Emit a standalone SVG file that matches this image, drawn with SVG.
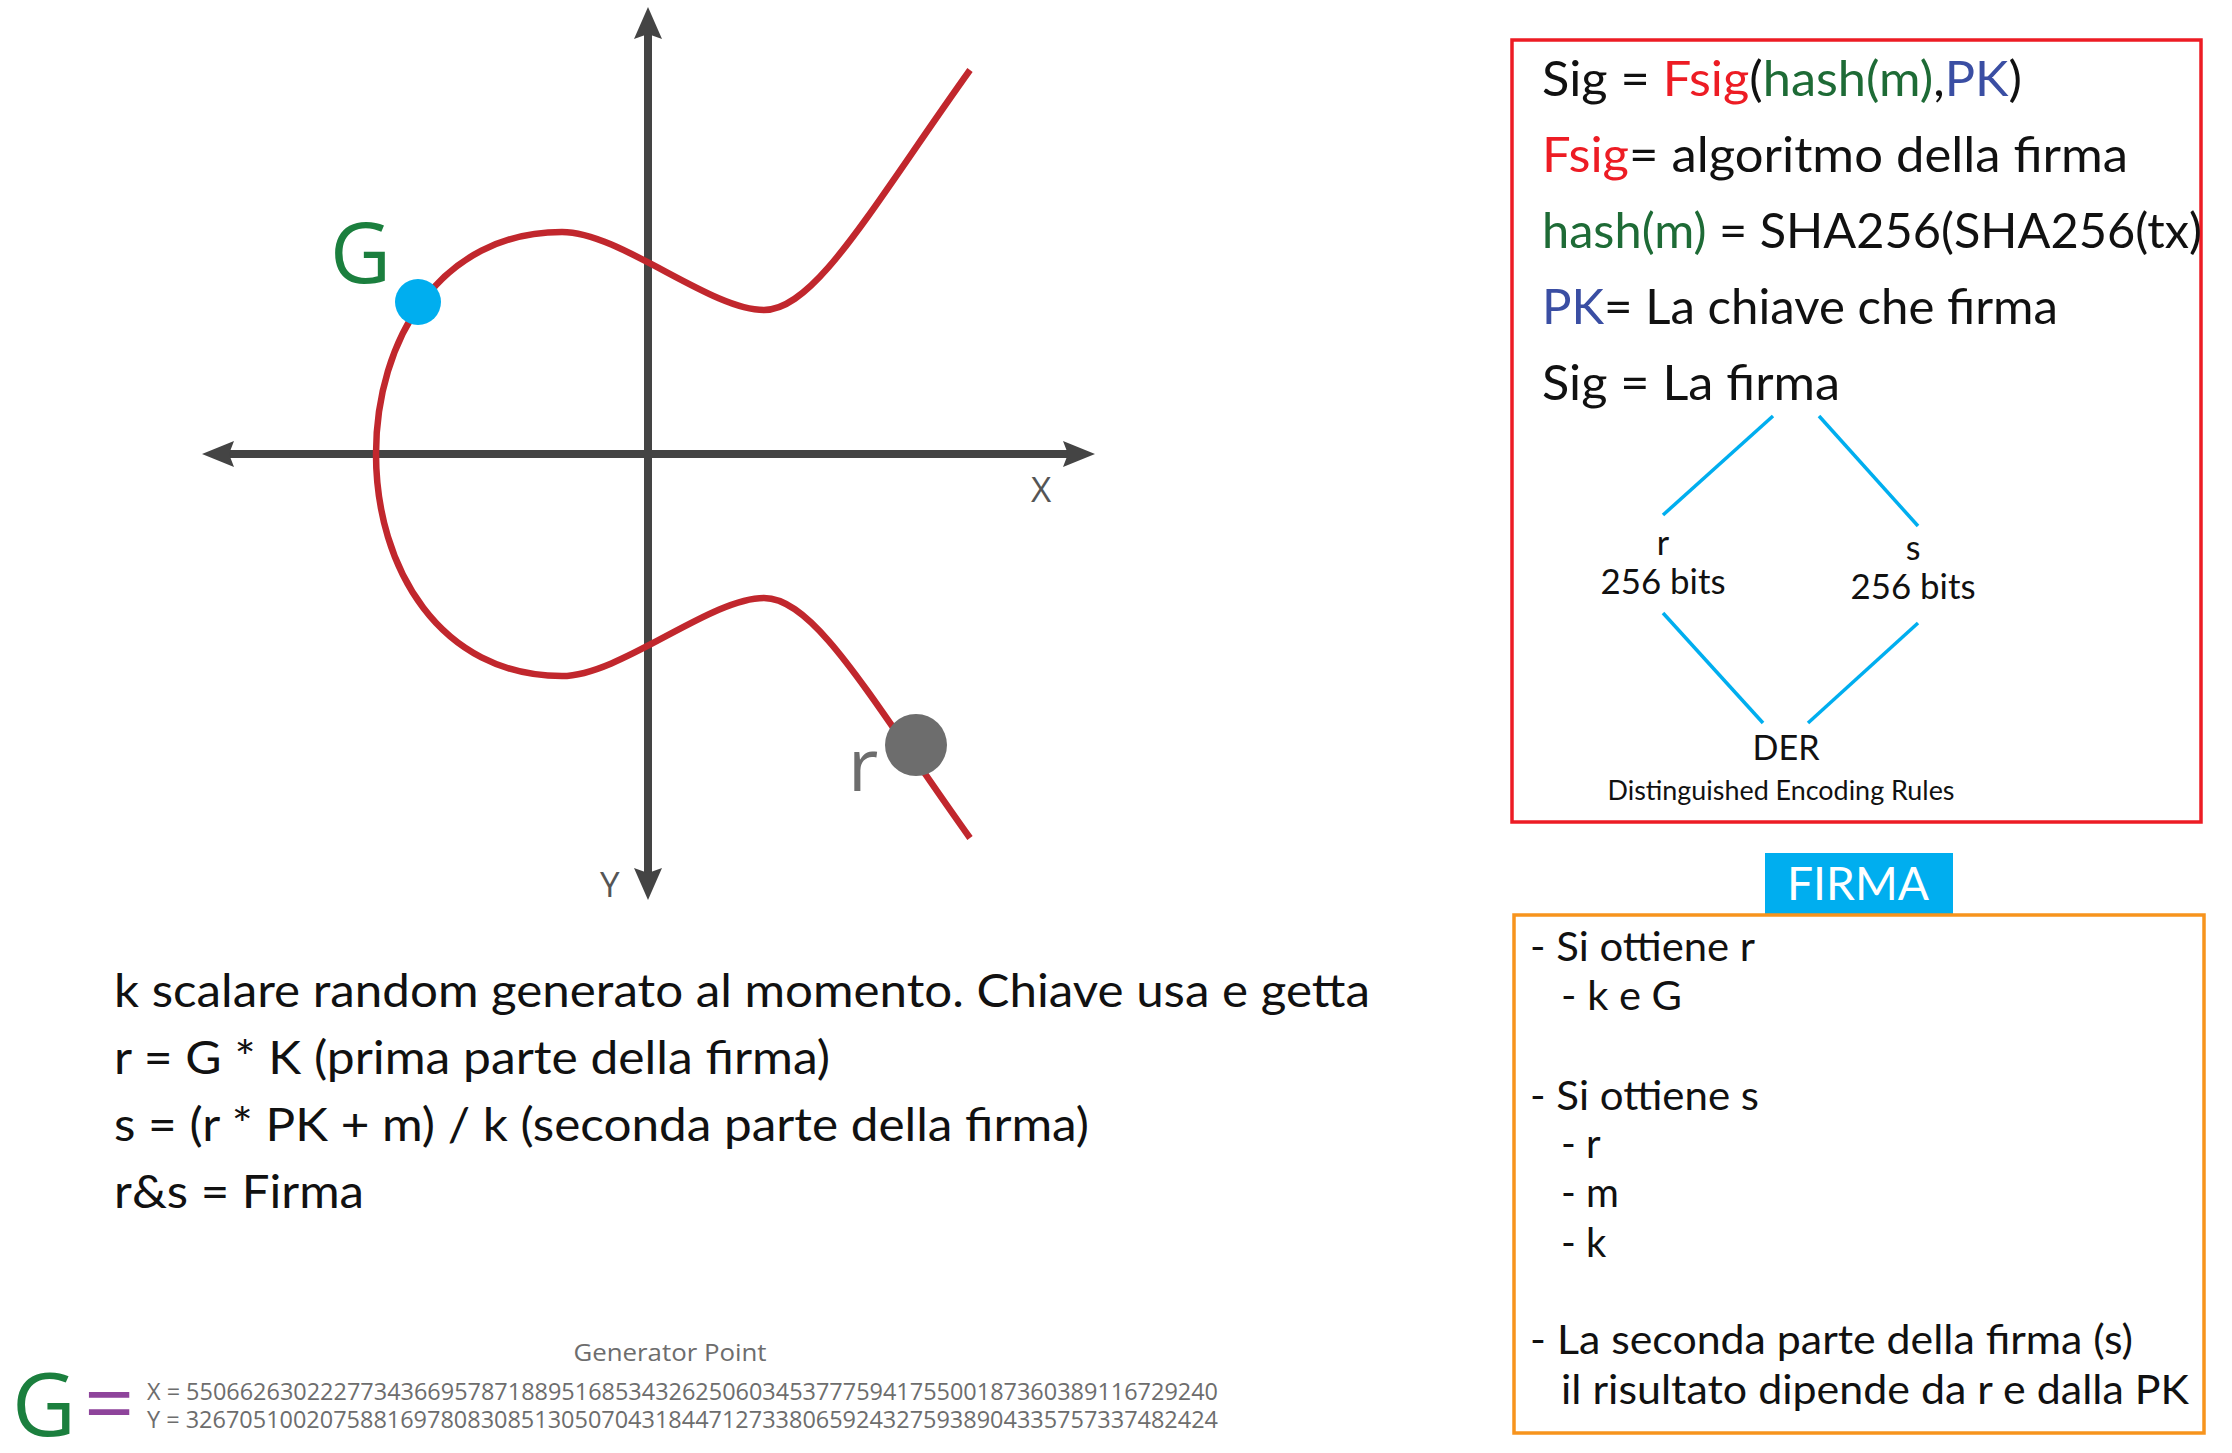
<svg xmlns="http://www.w3.org/2000/svg" width="2232" height="1453" viewBox="0 0 2232 1453">
<style>
.main{font-family:Lato,"Open Sans","Liberation Sans",sans-serif;fill:#111}
.lab{font-family:"Open Sans","Liberation Sans",sans-serif}
.gray{fill:#6d6d6d}
.red{fill:#ed1c24}
.grn{fill:#1e6b36}
.blu{fill:#3a4ea3}
.axis{stroke:#444;stroke-width:8;fill:none}
.ah{fill:#444}
.conn{stroke:#00aeef;stroke-width:3.5;fill:none}
</style>
<rect width="2232" height="1453" fill="#fff"/>

<g id="chart">
  <line class="axis" x1="648" y1="30" x2="648" y2="880"/>
  <line class="axis" x1="222" y1="454" x2="1076" y2="454"/>
  <path class="ah" d="M648 7 L662 39 L648 34 L634 39 Z"/>
  <path class="ah" d="M648 900 L662 868 L648 873 L634 868 Z"/>
  <path class="ah" d="M202 454 L234 441 L229 454 L234 467 Z"/>
  <path class="ah" d="M1095 454 L1063 441 L1068 454 L1063 467 Z"/>
  <text class="lab" x="1031" y="502" font-size="35" fill="#555">X</text>
  <text class="lab" x="600" y="897" font-size="35" fill="#555">Y</text>
  <path d="M970 70 C870 210 815 310 764 310 C710 310 620 232 562 232 C440 232 376 340 376 454 C376 568 440 676 562 676 C620 676 710 598 764 598 C815 598 870 698 970 838" fill="none" stroke="#c1272d" stroke-width="6.5"/>
  <g id="point-G">
    <circle cx="418" cy="302" r="23" fill="#00aeef"/>
    <text class="lab" x="330" y="283" font-size="84" fill="#1b7f3e">G</text>
  </g>
  <g id="point-r">
    <circle cx="916" cy="745" r="31" fill="#6d6d6d"/>
    <text class="lab gray" x="848" y="791" font-size="74">r</text>
  </g>
</g>

<g id="left-text" class="main" font-size="46">
  <text x="114" y="1007" textLength="1256" lengthAdjust="spacingAndGlyphs">k scalare random generato al momento. Chiave usa e getta</text>
  <text x="114" y="1074" textLength="716" lengthAdjust="spacingAndGlyphs">r = G * K (prima parte della firma)</text>
  <text x="114" y="1141" textLength="975" lengthAdjust="spacingAndGlyphs">s = (r * PK + m) / k (seconda parte della firma)</text>
  <text x="114" y="1208" textLength="250" lengthAdjust="spacingAndGlyphs">r&amp;s = Firma</text>
</g>

<g id="generator">
  <text class="lab gray" x="670" y="1361" font-size="23" text-anchor="middle" textLength="193" lengthAdjust="spacingAndGlyphs">Generator Point</text>
  <text class="lab" x="12" y="1436" font-size="88" fill="#1b7f3e">G</text>
  <text class="lab" x="84" y="1434" font-size="88" fill="#8e449b">=</text>
  <text class="lab gray" x="147" y="1400" font-size="23" textLength="1071" lengthAdjust="spacingAndGlyphs">X = 55066263022277343669578718895168534326250603453777594175500187360389116729240</text>
  <text class="lab gray" x="147" y="1428" font-size="23" textLength="1071" lengthAdjust="spacingAndGlyphs">Y = 32670510020758816978083085130507043184471273380659243275938904335757337482424</text>
</g>

<g id="formula-box">
  <rect x="1512" y="40" width="689" height="782" fill="none" stroke="#ed1c24" stroke-width="3.5"/>
  <g class="main" font-size="48">
    <text x="1542" y="96" textLength="480" lengthAdjust="spacingAndGlyphs">Sig = <tspan class="red">Fsig</tspan>(<tspan class="grn">hash(m)</tspan>,<tspan class="blu">PK</tspan>)</text>
    <text x="1542" y="172" textLength="586" lengthAdjust="spacingAndGlyphs"><tspan class="red">Fsig</tspan>= algoritmo della firma</text>
    <text x="1542" y="248" textLength="660" lengthAdjust="spacingAndGlyphs"><tspan class="grn">hash(m)</tspan> = SHA256(SHA256(tx)</text>
    <text x="1542" y="324" textLength="516" lengthAdjust="spacingAndGlyphs"><tspan class="blu">PK</tspan>= La chiave che firma</text>
    <text x="1542" y="400" textLength="298" lengthAdjust="spacingAndGlyphs">Sig = La firma</text>
  </g>
  <g id="connectors">
    <line class="conn" x1="1773" y1="416" x2="1663" y2="515"/>
    <line class="conn" x1="1819" y1="416" x2="1918" y2="526"/>
    <line class="conn" x1="1663" y1="613" x2="1763" y2="723"/>
    <line class="conn" x1="1918" y1="623" x2="1808" y2="723"/>
  </g>
  <g id="node-r" class="main" font-size="34" text-anchor="middle">
    <text x="1663" y="555">r</text>
    <text x="1663" y="594" textLength="125" lengthAdjust="spacingAndGlyphs">256 bits</text>
  </g>
  <g id="node-s" class="main" font-size="34" text-anchor="middle">
    <text x="1913" y="560">s</text>
    <text x="1913" y="599" textLength="125" lengthAdjust="spacingAndGlyphs">256 bits</text>
  </g>
  <g id="node-der" class="main" text-anchor="middle">
    <text x="1786" y="760" font-size="34" textLength="67" lengthAdjust="spacingAndGlyphs">DER</text>
    <text x="1781" y="800" font-size="26" textLength="347" lengthAdjust="spacingAndGlyphs">Distinguished Encoding Rules</text>
  </g>
</g>

<g id="firma-box">
  <rect x="1765" y="853" width="188" height="61" fill="#00aeef"/>
  <text class="main" x="1858" y="900" font-size="46" text-anchor="middle" style="fill:#fff" textLength="142" lengthAdjust="spacingAndGlyphs">FIRMA</text>
  <rect x="1514" y="915" width="690" height="518" fill="none" stroke="#f7941d" stroke-width="3.5"/>
  <g class="main" font-size="40">
    <text x="1530" y="961" textLength="225" lengthAdjust="spacingAndGlyphs">- Si ottiene r</text>
    <text x="1561" y="1010" textLength="121" lengthAdjust="spacingAndGlyphs">- k e G</text>
    <text x="1530" y="1110" textLength="229" lengthAdjust="spacingAndGlyphs">- Si ottiene s</text>
    <text x="1561" y="1158">- r</text>
    <text x="1561" y="1207">- m</text>
    <text x="1561" y="1257">- k</text>
    <text x="1530" y="1354" textLength="603" lengthAdjust="spacingAndGlyphs">- La seconda parte della firma (s)</text>
    <text x="1561" y="1404" textLength="628" lengthAdjust="spacingAndGlyphs">il risultato dipende da r e dalla PK</text>
  </g>
</g>
</svg>
